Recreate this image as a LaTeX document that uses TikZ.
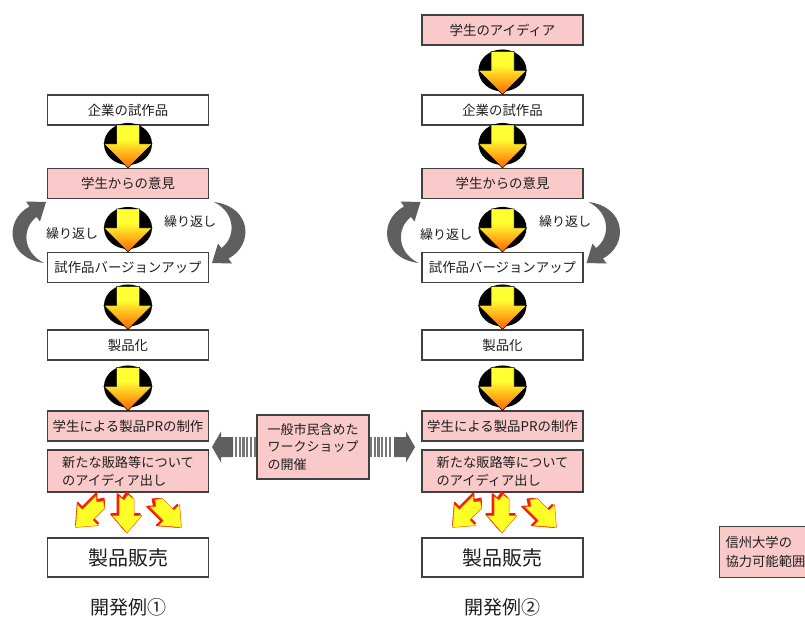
\documentclass[tikz,border=0pt]{standalone}
\usepackage{fontspec}
\newfontfamily\cjk{Noto Sans CJK JP}
\usetikzlibrary{calc}
\definecolor{boxpink}{RGB}{250,202,202}
\definecolor{boxline}{RGB}{64,64,64}
\definecolor{txt}{RGB}{30,30,30}
\definecolor{arrowgray}{RGB}{95,95,95}
\definecolor{ayellow}{RGB}{255,255,50}
\definecolor{aorange}{RGB}{255,100,0}
\definecolor{fanred}{RGB}{240,30,10}
\definecolor{fanyellow}{RGB}{255,255,40}
\begin{document}
\begin{tikzpicture}[x=1pt,y=-1pt,
  stepbox/.style={draw=boxline, line width=1.1pt, fill=white, minimum width=161pt, minimum height=30pt, inner sep=0pt, text=txt, font=\cjk\fontsize{13.4}{16}\selectfont},
  pinkbox/.style={stepbox, fill=boxpink},
  twoline/.style={minimum height=42pt, align=left, font=\cjk\fontsize{13.2}{18}\selectfont},
  salebox/.style={stepbox, minimum height=39pt, font=\cjk\fontsize{20}{24}\selectfont},
  caption/.style={text=txt, inner sep=0pt, font=\cjk\fontsize{19}{22}\selectfont},
  looplabel/.style={text=txt, inner sep=0pt, font=\cjk\fontsize{13}{16}\selectfont},
  downicon/.pic={
    \fill[black] (0,0) ellipse [x radius=24, y radius=21];
    \begin{scope}
      \clip (-11.5,-19) -- (11.5,-19) -- (11.5,0) -- (24,0) -- (0,24) -- (-24,0) -- (-11.5,0) -- cycle;
      \foreach \k in {0,...,43}{
        \pgfmathsetmacro{\pct}{max(0,min(100,(\k-14)/29*100))}
        \fill[aorange!\pct!ayellow] (-25,\k-19) rectangle (25,\k-17.7);
      }
    \end{scope}
    \draw[black, line width=0.5pt]
      (-11.5,-19) -- (11.5,-19) -- (11.5,0) -- (24,0) -- (0,24) -- (-24,0) -- (-11.5,0) -- cycle;
  },
  fanarrow/.pic={
    \filldraw[fanred, line width=1.6pt, line join=round]
      (-9.5,-20) -- (-4.5,-15.5) -- (-0.5,-21.5) -- (5,-16.5) -- (5.5,0) -- (13,0) -- (-1.5,17) -- (-16,0) -- (-9.5,0) -- cycle;
    \filldraw[fill=fanyellow, draw=orange!70!red, line width=0.5pt, line join=round]
      (-8,-18) -- (-3,-14) -- (1,-19.5) -- (7,-15) -- (7,1.5) -- (15,1.5) -- (0,19) -- (-15,1.5) -- (-8,1.5) -- cycle;
  },
  loops/.pic={
    \fill[arrowgray] (-84,263) .. controls (-122,258) and (-124,220) .. (-98.5,206.5)
      -- (-102,201.5) -- (-82,202) -- (-88,221.5) -- (-91.5,216.9)
      .. controls (-106,228) and (-106,252) .. (-84,263) -- cycle;
    \fill[arrowgray, rotate around={180:(1,232.5)}] (-84,263) .. controls (-122,258) and (-124,220) .. (-98.5,206.5)
      -- (-102,201.5) -- (-82,202) -- (-88,221.5) -- (-91.5,216.9)
      .. controls (-106,228) and (-106,252) .. (-84,263) -- cycle;
  }
]
\clip (0,0) rectangle (805,619);
\fill[white] (0,0) rectangle (805,619);

% ---------- left column ----------
\node[stepbox] (L1) at (128,110) {企業の試作品};
\node[pinkbox] (L2) at (128,183.5) {学生からの意見};
\node[stepbox] (L3) at (128,267.5) {試作品バージョンアップ};
\node[stepbox] (L4) at (128,345) {製品化};
\node[pinkbox] (L5) at (128,426) {学生による製品PRの制作};
\node[pinkbox, twoline] (L6) at (128,471) {新たな販路等について\\のアイディア出し};
\node[salebox] (L7) at (128,557.5) {製品販売};
\node[caption] (L8) at (128,607) {開発例①};

\pic at ($(L2.north)+(0,-24)$) {downicon};
\pic at ($(L3.north)+(0,-24)$) {downicon};
\pic at ($(L4.north)+(0,-24)$) {downicon};
\pic at ($(L5.north)+(0,-24)$) {downicon};
\pic at (128,0) {loops};
\node[looplabel] (LL1) at (72,234) {繰り返し};
\node[looplabel] (LL2) at (190,222) {繰り返し};
\pic[rotate=-45] at (89,514) {fanarrow};
\pic at (127,514) {fanarrow};
\pic[rotate=45] at (168,514) {fanarrow};

% ---------- right column ----------
\node[pinkbox] (R0) at (502.5,30) {学生のアイディア};
\node[stepbox] (R1) at (502.5,110) {企業の試作品};
\node[pinkbox] (R2) at (502.5,183.5) {学生からの意見};
\node[stepbox] (R3) at (502.5,267.5) {試作品バージョンアップ};
\node[stepbox] (R4) at (502.5,345) {製品化};
\node[pinkbox] (R5) at (502.5,426) {学生による製品PRの制作};
\node[pinkbox, twoline] (R6) at (502.5,471) {新たな販路等について\\のアイディア出し};
\node[salebox] (R7) at (502.5,557.5) {製品販売};
\node[caption] (R8) at (502.5,607) {開発例②};

\pic at ($(R1.north)+(0,-24)$) {downicon};
\pic at ($(R2.north)+(0,-24)$) {downicon};
\pic at ($(R3.north)+(0,-24)$) {downicon};
\pic at ($(R4.north)+(0,-24)$) {downicon};
\pic at ($(R5.north)+(0,-24)$) {downicon};
\pic at (502.5,0) {loops};
\node[looplabel] (RL1) at (446,235) {繰り返し};
\node[looplabel] (RL2) at (565,222) {繰り返し};
\pic[rotate=-45] at (466,514) {fanarrow};
\pic at (502,514) {fanarrow};
\pic[rotate=45] at (543,514) {fanarrow};

% ---------- middle workshop box ----------
\node[pinkbox, minimum width=112pt, minimum height=64pt, align=left,
      font=\cjk\fontsize{13}{17.5}\selectfont] (M) at (313,447)
  {一般市民含めた\\ワークショップ\\の開催};
% left striped arrow
\fill[arrowgray] (212,447) -- (221,431.5) -- (221,437) -- (233,437) -- (233,457) -- (221,457) -- (221,462.5) -- cycle;
\foreach \i in {0,...,5} \fill[arrowgray!85] (235+\i*3.7,437) rectangle ++(2.2,20);
% right striped arrow
\foreach \i in {0,...,5} \fill[arrowgray!85] (370+\i*3.7,437) rectangle ++(2.2,20);
\fill[arrowgray] (415,447) -- (406,431.5) -- (406,437) -- (394,437) -- (394,457) -- (406,457) -- (406,462.5) -- cycle;

% ---------- legend ----------
\node[draw=boxline, line width=1.1pt, fill=boxpink, anchor=west, align=left, text=txt,
      inner xsep=6pt, inner ysep=6pt, minimum height=51pt,
      font=\cjk\fontsize{13.3}{19}\selectfont] (K) at (719,552) {信州大学の\\協力可能範囲};
\end{tikzpicture}
\end{document}
